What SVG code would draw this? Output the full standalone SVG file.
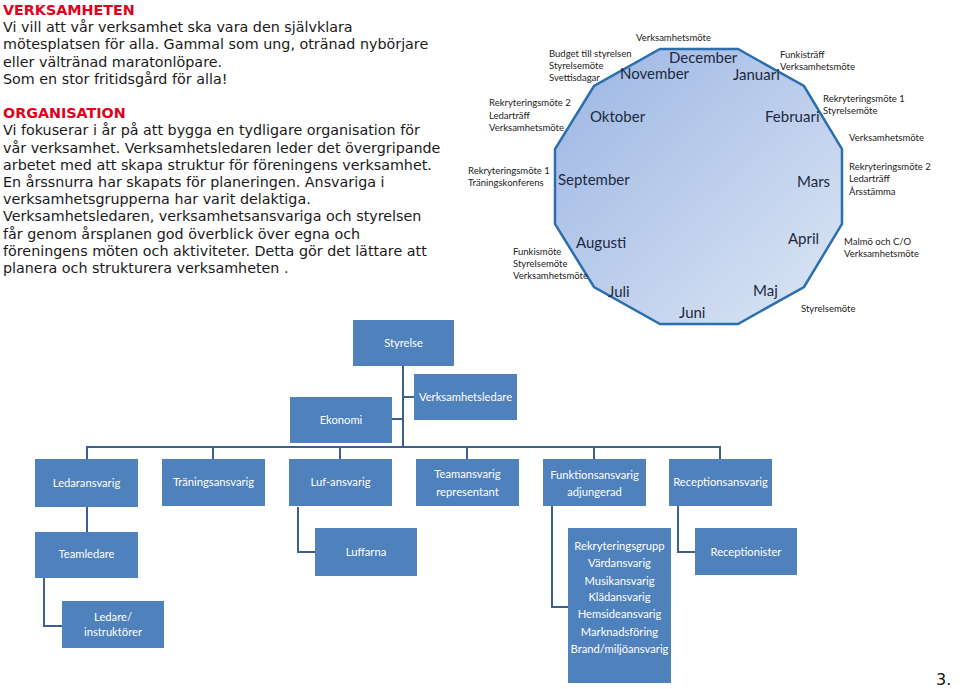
<svg xmlns="http://www.w3.org/2000/svg" width="960" height="689" viewBox="0 0 960 689">
<style>
.body{font-family:"DejaVu Sans",Verdana,sans-serif;font-size:14.3px;fill:#1a1a1a}
.head{font-family:"DejaVu Sans",Verdana,sans-serif;font-size:14.3px;font-weight:bold;fill:#e2001a}
.month{font-family:Lato,"Open Sans",sans-serif;font-size:15px;fill:#1c2a3e}
.note{font-family:Lato,"Open Sans",sans-serif;font-size:9.5px;fill:#222}
.box{fill:#4f81bd}
.bt{font-family:Lato,"Open Sans",sans-serif;font-size:11.2px;fill:#fff;text-anchor:middle}
.con{fill:none;stroke:#3d5f8e;stroke-width:2}
</style>
<defs>
<linearGradient id="wheel" x1="0" y1="0" x2="1" y2="1">
<stop offset="0" stop-color="#9bb5e3"/>
<stop offset="1" stop-color="#dde6f5"/>
</linearGradient>
</defs>
<rect width="960" height="689" fill="#fff"/>

<g id="intro">
<text class="head" x="3" y="15">VERKSAMHETEN</text>
<text class="body" x="3" y="32.2">Vi vill att vår verksamhet ska vara den självklara</text>
<text class="body" x="3" y="49.4">mötesplatsen för alla. Gammal som ung, otränad nybörjare</text>
<text class="body" x="3" y="66.6">eller vältränad maratonlöpare.</text>
<text class="body" x="3" y="83.8">Som en stor fritidsgård för alla!</text>
<text class="head" x="3" y="118.2">ORGANISATION</text>
<text class="body" x="3" y="135.4">Vi fokuserar i år på att bygga en tydligare organisation för</text>
<text class="body" x="3" y="152.6">vår verksamhet. Verksamhetsledaren leder det övergripande</text>
<text class="body" x="3" y="169.8">arbetet med att skapa struktur för föreningens verksamhet.</text>
<text class="body" x="3" y="187">En årssnurra har skapats för planeringen. Ansvariga i</text>
<text class="body" x="3" y="204.2">verksamhetsgrupperna har varit delaktiga.</text>
<text class="body" x="3" y="221.4">Verksamhetsledaren, verksamhetsansvariga och styrelsen</text>
<text class="body" x="3" y="238.6">får genom årsplanen god överblick över egna och</text>
<text class="body" x="3" y="255.8">föreningens möten och aktiviteter. Detta gör det lättare att</text>
<text class="body" x="3" y="273">planera och strukturera verksamheten .</text>
</g>

<g id="arsplan">
<polygon points="660,49 738,49 804,86 842,149 842,224 804,287 738,324 660,324 594,287 555,224 555,149 594,86" fill="url(#wheel)" stroke="#2b6fae" stroke-width="2.5" stroke-linejoin="miter"/>
<text class="month" x="669" y="63">December</text>
<text class="month" x="620" y="79">November</text>
<text class="month" x="733" y="80">Januari</text>
<text class="month" x="590" y="122">Oktober</text>
<text class="month" x="765" y="122">Februari</text>
<text class="month" x="558" y="185">September</text>
<text class="month" x="797" y="187">Mars</text>
<text class="month" x="576" y="248">Augusti</text>
<text class="month" x="788" y="244">April</text>
<text class="month" x="608" y="297">Juli</text>
<text class="month" x="753" y="296">Maj</text>
<text class="month" x="679" y="318">Juni</text>

<text class="note" x="636" y="41">Verksamhetsmöte</text>
<text class="note" x="549" y="57">Budget till styrelsen</text>
<text class="note" x="549" y="69">Styrelsemöte</text>
<text class="note" x="549" y="81">Svettisdagar</text>
<text class="note" x="780" y="58">Funkisträff</text>
<text class="note" x="780" y="70">Verksamhetsmöte</text>
<text class="note" x="489" y="106">Rekryteringsmöte 2</text>
<text class="note" x="489" y="118.5">Ledarträff</text>
<text class="note" x="489" y="131">Verksamhetsmöte</text>
<text class="note" x="823" y="102">Rekryteringsmöte 1</text>
<text class="note" x="823" y="114">Styrelsemöte</text>
<text class="note" x="849" y="141">Verksamhetsmöte</text>
<text class="note" x="468" y="174">Rekryteringsmöte 1</text>
<text class="note" x="468" y="186">Träningskonferens</text>
<text class="note" x="849" y="170">Rekryteringsmöte 2</text>
<text class="note" x="849" y="182">Ledarträff</text>
<text class="note" x="849" y="195">Årsstämma</text>
<text class="note" x="513" y="255">Funkismöte</text>
<text class="note" x="513" y="267">Styrelsemöte</text>
<text class="note" x="513" y="279">Verksamhetsmöte</text>
<text class="note" x="844" y="245">Malmö och C/O</text>
<text class="note" x="844" y="257">Verksamhetsmöte</text>
<text class="note" x="801" y="312">Styrelsemöte</text>
</g>

<g id="connectors">
<path class="con" d="M403 366V447"/>
<path class="con" d="M403 397H414"/>
<path class="con" d="M392 419H403"/>
<path class="con" d="M87 447H720"/>
<path class="con" d="M87 446V459M213 446V459M340 446V459M467 446V459M594 446V459M720 446V459"/>
<path class="con" d="M87 507V532"/>
<path class="con" d="M44 578V626H62"/>
<path class="con" d="M298 507V552H315"/>
<path class="con" d="M552 506V607H568"/>
<path class="con" d="M678 506V552H695"/>
</g>

<g id="styrelse"><rect class="box" x="353" y="320" width="101" height="46"/><text class="bt" x="403.5" y="347">Styrelse</text></g>
<g id="verksamhetsledare"><rect class="box" x="414" y="374" width="103" height="46"/><text class="bt" x="465.5" y="401">Verksamhetsledare</text></g>
<g id="ekonomi"><rect class="box" x="290" y="397" width="102" height="46"/><text class="bt" x="341" y="424">Ekonomi</text></g>

<g id="ledaransvarig"><rect class="box" x="35" y="459" width="103" height="48"/><text class="bt" x="86.5" y="487">Ledaransvarig</text></g>
<g id="traningsansvarig"><rect class="box" x="162" y="459" width="103" height="47"/><text class="bt" x="213.5" y="486">Träningsansvarig</text></g>
<g id="luf-ansvarig"><rect class="box" x="289" y="459" width="103" height="47"/><text class="bt" x="340.5" y="486">Luf-ansvarig</text></g>
<g id="teamansvarig"><rect class="box" x="416" y="459" width="103" height="47"/><text class="bt" x="467.5" y="478">Teamansvarig</text><text class="bt" x="467.5" y="496">representant</text></g>
<g id="funktionsansvarig"><rect class="box" x="543" y="459" width="103" height="47"/><text class="bt" x="594.5" y="479">Funktionsansvarig</text><text class="bt" x="594.5" y="496">adjungerad</text></g>
<g id="receptionsansvarig"><rect class="box" x="669" y="459" width="103" height="47"/><text class="bt" x="720.5" y="486">Receptionsansvarig</text></g>

<g id="teamledare"><rect class="box" x="35" y="532" width="103" height="46"/><text class="bt" x="86.5" y="558">Teamledare</text></g>
<g id="luffarna"><rect class="box" x="315" y="528" width="102" height="48"/><text class="bt" x="366" y="556">Luffarna</text></g>
<g id="ledare"><rect class="box" x="62" y="601" width="102" height="47"/><text class="bt" x="113" y="621">Ledare/</text><text class="bt" x="113" y="636">instruktörer</text></g>
<g id="rekryteringsgrupp"><rect class="box" x="568" y="528" width="103" height="155"/>
<text class="bt" x="619.5" y="550">Rekryteringsgrupp</text>
<text class="bt" x="619.5" y="567">Värdansvarig</text>
<text class="bt" x="619.5" y="585">Musikansvarig</text>
<text class="bt" x="619.5" y="601">Klädansvarig</text>
<text class="bt" x="619.5" y="618">Hemsideansvarig</text>
<text class="bt" x="619.5" y="636">Marknadsföring</text>
<text class="bt" x="619.5" y="653">Brand/miljöansvarig</text>
</g>
<g id="receptionister"><rect class="box" x="695" y="528" width="102" height="47"/><text class="bt" x="746" y="556">Receptionister</text></g>

<text x="936" y="685" font-family="DejaVu Sans, Verdana, sans-serif" font-size="16" fill="#111">3.</text>
</svg>
